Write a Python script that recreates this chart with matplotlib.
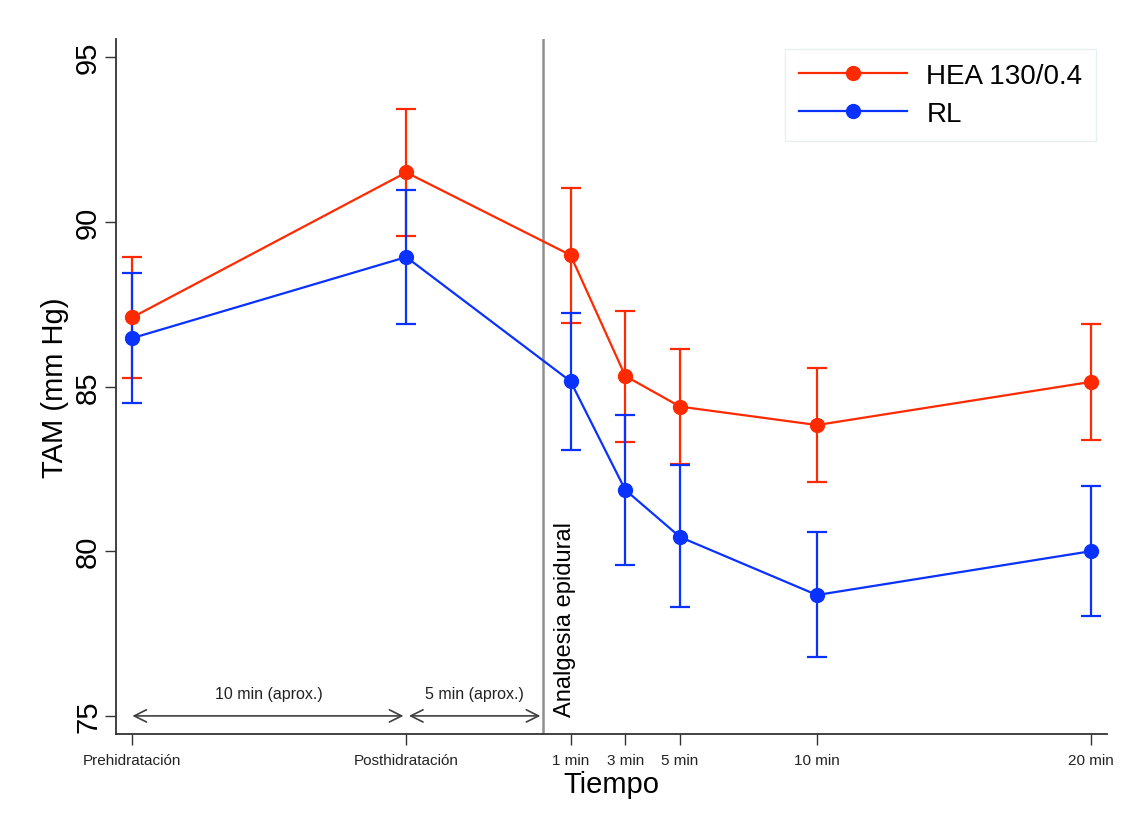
import numpy as np
import matplotlib
matplotlib.use("Agg")
import matplotlib.pyplot as plt
from matplotlib.lines import Line2D

plt.rcParams['font.family'] = ['Liberation Sans', 'DejaVu Sans']

# time in minutes relative to epidural analgesia
tiempo = [-15, -5, 1, 3, 5, 10, 20]
etiquetas = ["Prehidratación", "Posthidratación", "1 min", "3 min", "5 min", "10 min", "20 min"]

hea_media = [87.10, 91.50, 88.99, 85.32, 84.39, 83.83, 85.14]
hea_sup = [88.92, 93.42, 91.04, 87.30, 86.13, 85.55, 86.90]
hea_inf = [85.26, 89.57, 86.93, 83.32, 82.65, 82.10, 83.38]

rl_media = [86.47, 88.93, 85.16, 81.86, 80.43, 78.67, 80.00]
rl_sup = [88.45, 90.96, 87.24, 84.15, 82.62, 80.58, 81.98]
rl_inf = [84.50, 86.90, 83.08, 79.58, 78.31, 76.79, 78.03]

rojo = '#ff2a00'
azul = '#0a32ff'

fig = plt.figure(figsize=(11.29, 8.28), dpi=100)
ax = fig.add_axes([0.1027, 0.1123, 0.878, 0.8394])

def serie(media, sup, inf, color):
    media = np.array(media)
    yerr = [media - np.array(inf), np.array(sup) - media]
    ax.errorbar(tiempo, media, yerr=yerr, color=color, lw=1.6, marker='o', ms=10,
                capsize=7, capthick=1.6, elinewidth=1.6)

serie(hea_media, hea_sup, hea_inf, rojo)
serie(rl_media, rl_sup, rl_inf, azul)

ax.axvline(0, color='#909090', lw=1.8)
ax.text(0.8, 75.0, "Analgesia epidural", rotation=90, ha='center', va='bottom', fontsize=17)

flecha = dict(arrowstyle='<->', color='#404040', lw=1.2, mutation_scale=22,
              shrinkA=0, shrinkB=0)
ax.annotate("", xy=(-15, 75), xytext=(-5.1, 75), arrowprops=flecha)
ax.annotate("", xy=(-4.9, 75), xytext=(-0.1, 75), arrowprops=flecha)
ax.text(-10, 75.45, "10 min (aprox.)", ha='center', va='bottom', fontsize=11.5, color='#222222')
ax.text(-2.5, 75.45, "5 min (aprox.)", ha='center', va='bottom', fontsize=11.5, color='#222222')

ax.set_xlim(-15.6, 20.6)
ax.set_ylim(74.45, 95.55)
ax.set_yticks([75, 80, 85, 90, 95])
ax.set_yticklabels(["75", "80", "85", "90", "95"], rotation=90, va='center', fontsize=21)
ax.set_xticks(tiempo)
ax.set_xticklabels(etiquetas, fontsize=11, color='#222222')
ax.tick_params(axis='both', direction='out', length=8, width=1.0, color='#333333')
ax.tick_params(axis='y', pad=2)
ax.tick_params(axis='x', pad=6)

ax.set_ylabel("TAM (mm Hg)", fontsize=21, labelpad=4)
ax.set_xlabel("Tiempo", fontsize=21, labelpad=2)

for lado in ['top', 'right']:
    ax.spines[lado].set_visible(False)
for lado in ['left', 'bottom']:
    ax.spines[lado].set_color('#333333')
    ax.spines[lado].set_linewidth(1.3)

manejadores = [Line2D([], [], color=rojo, lw=1.6, marker='o', ms=10),
               Line2D([], [], color=azul, lw=1.6, marker='o', ms=10)]
leg = ax.legend(manejadores, ["HEA 130/0.4", "RL"], loc='upper right',
                bbox_to_anchor=(0.989, 0.986), borderaxespad=0, fontsize=20, frameon=True,
                fancybox=False, handlelength=3.9, borderpad=0.5, labelspacing=0.45,
                handletextpad=0.7)
leg.get_frame().set_edgecolor('#e3eeee')
leg.get_frame().set_linewidth(1.0)

fig.savefig("out.png", dpi=100)
